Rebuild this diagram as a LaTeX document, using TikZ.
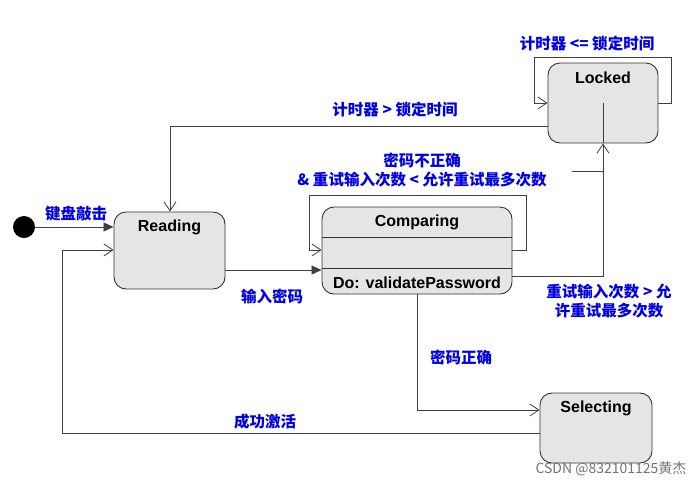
\documentclass[tikz,border=0pt]{standalone}
\usepackage{fontspec}
\setmainfont{Liberation Sans}
\newfontfamily\cjk{Noto Sans CJK SC}
\usetikzlibrary{arrows.meta}
\begin{document}
\begin{tikzpicture}[x=1pt,y=-1pt,
  st/.style={draw=black!80,fill=black!10,rounded corners=12pt,line width=0.9pt},
  ttl/.style={font=\fontsize{16}{16}\selectfont\bfseries},
  lbl/.style={text=blue!90!black,font=\cjk\fontsize{15.5}{19}\selectfont\bfseries,align=center},
  con/.style={draw=black!75,line width=0.8pt},
  oa/.style={con,-{Straight Barb[length=9pt,width=12pt,line width=0.8pt]}},
  fa/.style={con,-{Triangle[length=10pt,width=9pt]}}]
\useasboundingbox (0,0) rectangle (700,491);
\node[st,minimum width=110pt,minimum height=80pt] (locked) at (603,103) {};
\node[ttl] at (603,78) {Locked};
\node[st,minimum width=111pt,minimum height=77pt] (reading) at (169.5,250.5) {};
\node[ttl] at (169.5,227) {Reading};
\node[st,minimum width=112pt,minimum height=70pt] (selecting) at (596,428) {};
\node[ttl] at (596,408) {Selecting};
\node[st,minimum width=190pt,minimum height=87pt] (comparing) at (417,250.5) {};
\draw[black!80,line width=0.9pt] (322,237) -- (512,237) (322,268) -- (512,268);
\node[ttl] at (417,222) {Comparing};
\node[ttl] at (417,283) {Do: validatePassword};
\node[circle,fill=black,minimum size=22pt,inner sep=0pt] (init) at (24,227) {};
% connectors
\draw[fa] (init.east) -- (reading.west |- 0,227);
\node[lbl,anchor=south] at (76,225) {键盘敲击};
\draw[oa] (selecting.west |- 0,433) -- (62,433) -- (62,250) -- (reading.west |- 0,250);
\node[lbl,anchor=south] at (265,433) {成功激活};
\draw[oa] (locked.west |- 0,126) -- (170,126) -- (reading.north -| 170,0);
\node[lbl,anchor=south] at (395,121) {计时器 > 锁定时间};
\draw[oa] (locked.east |- 0,103) -- (671,103) -- (671,57) -- (534,57) -- (534,103) -- (locked.west |- 0,103);
\node[lbl,anchor=south] at (587,55) {计时器 <= 锁定时间};
\draw[fa] (reading.east |- 0,270) -- (comparing.west |- 0,270);
\node[lbl] at (272,296) {输入密码};
\draw[oa] (comparing.east |- 0,250) -- (526,250) -- (526,195) -- (309,195) -- (309,250) -- (comparing.west |- 0,250);
\node[lbl] at (422,170) {密码不正确\\\& 重试输入次数 < 允许重试最多次数};
\draw[oa] (comparing.east |- 0,276) -- (603,276) -- (locked.south);
\draw[con] (603,143) -- (603,103);
\draw[con] (572,171) -- (603,171);
\node[lbl] at (609,301) {重试输入次数 > 允\\许重试最多次数};
\draw[oa] (comparing.south -| 417,0) -- (417,410) -- (selecting.west |- 0,410);
\node[lbl] at (461,357) {密码正确};
\node[text=black!55,font=\cjk\fontsize{14}{14}\selectfont,anchor=east] at (690,469) {CSDN @832101125黄杰};
\end{tikzpicture}
\end{document}
